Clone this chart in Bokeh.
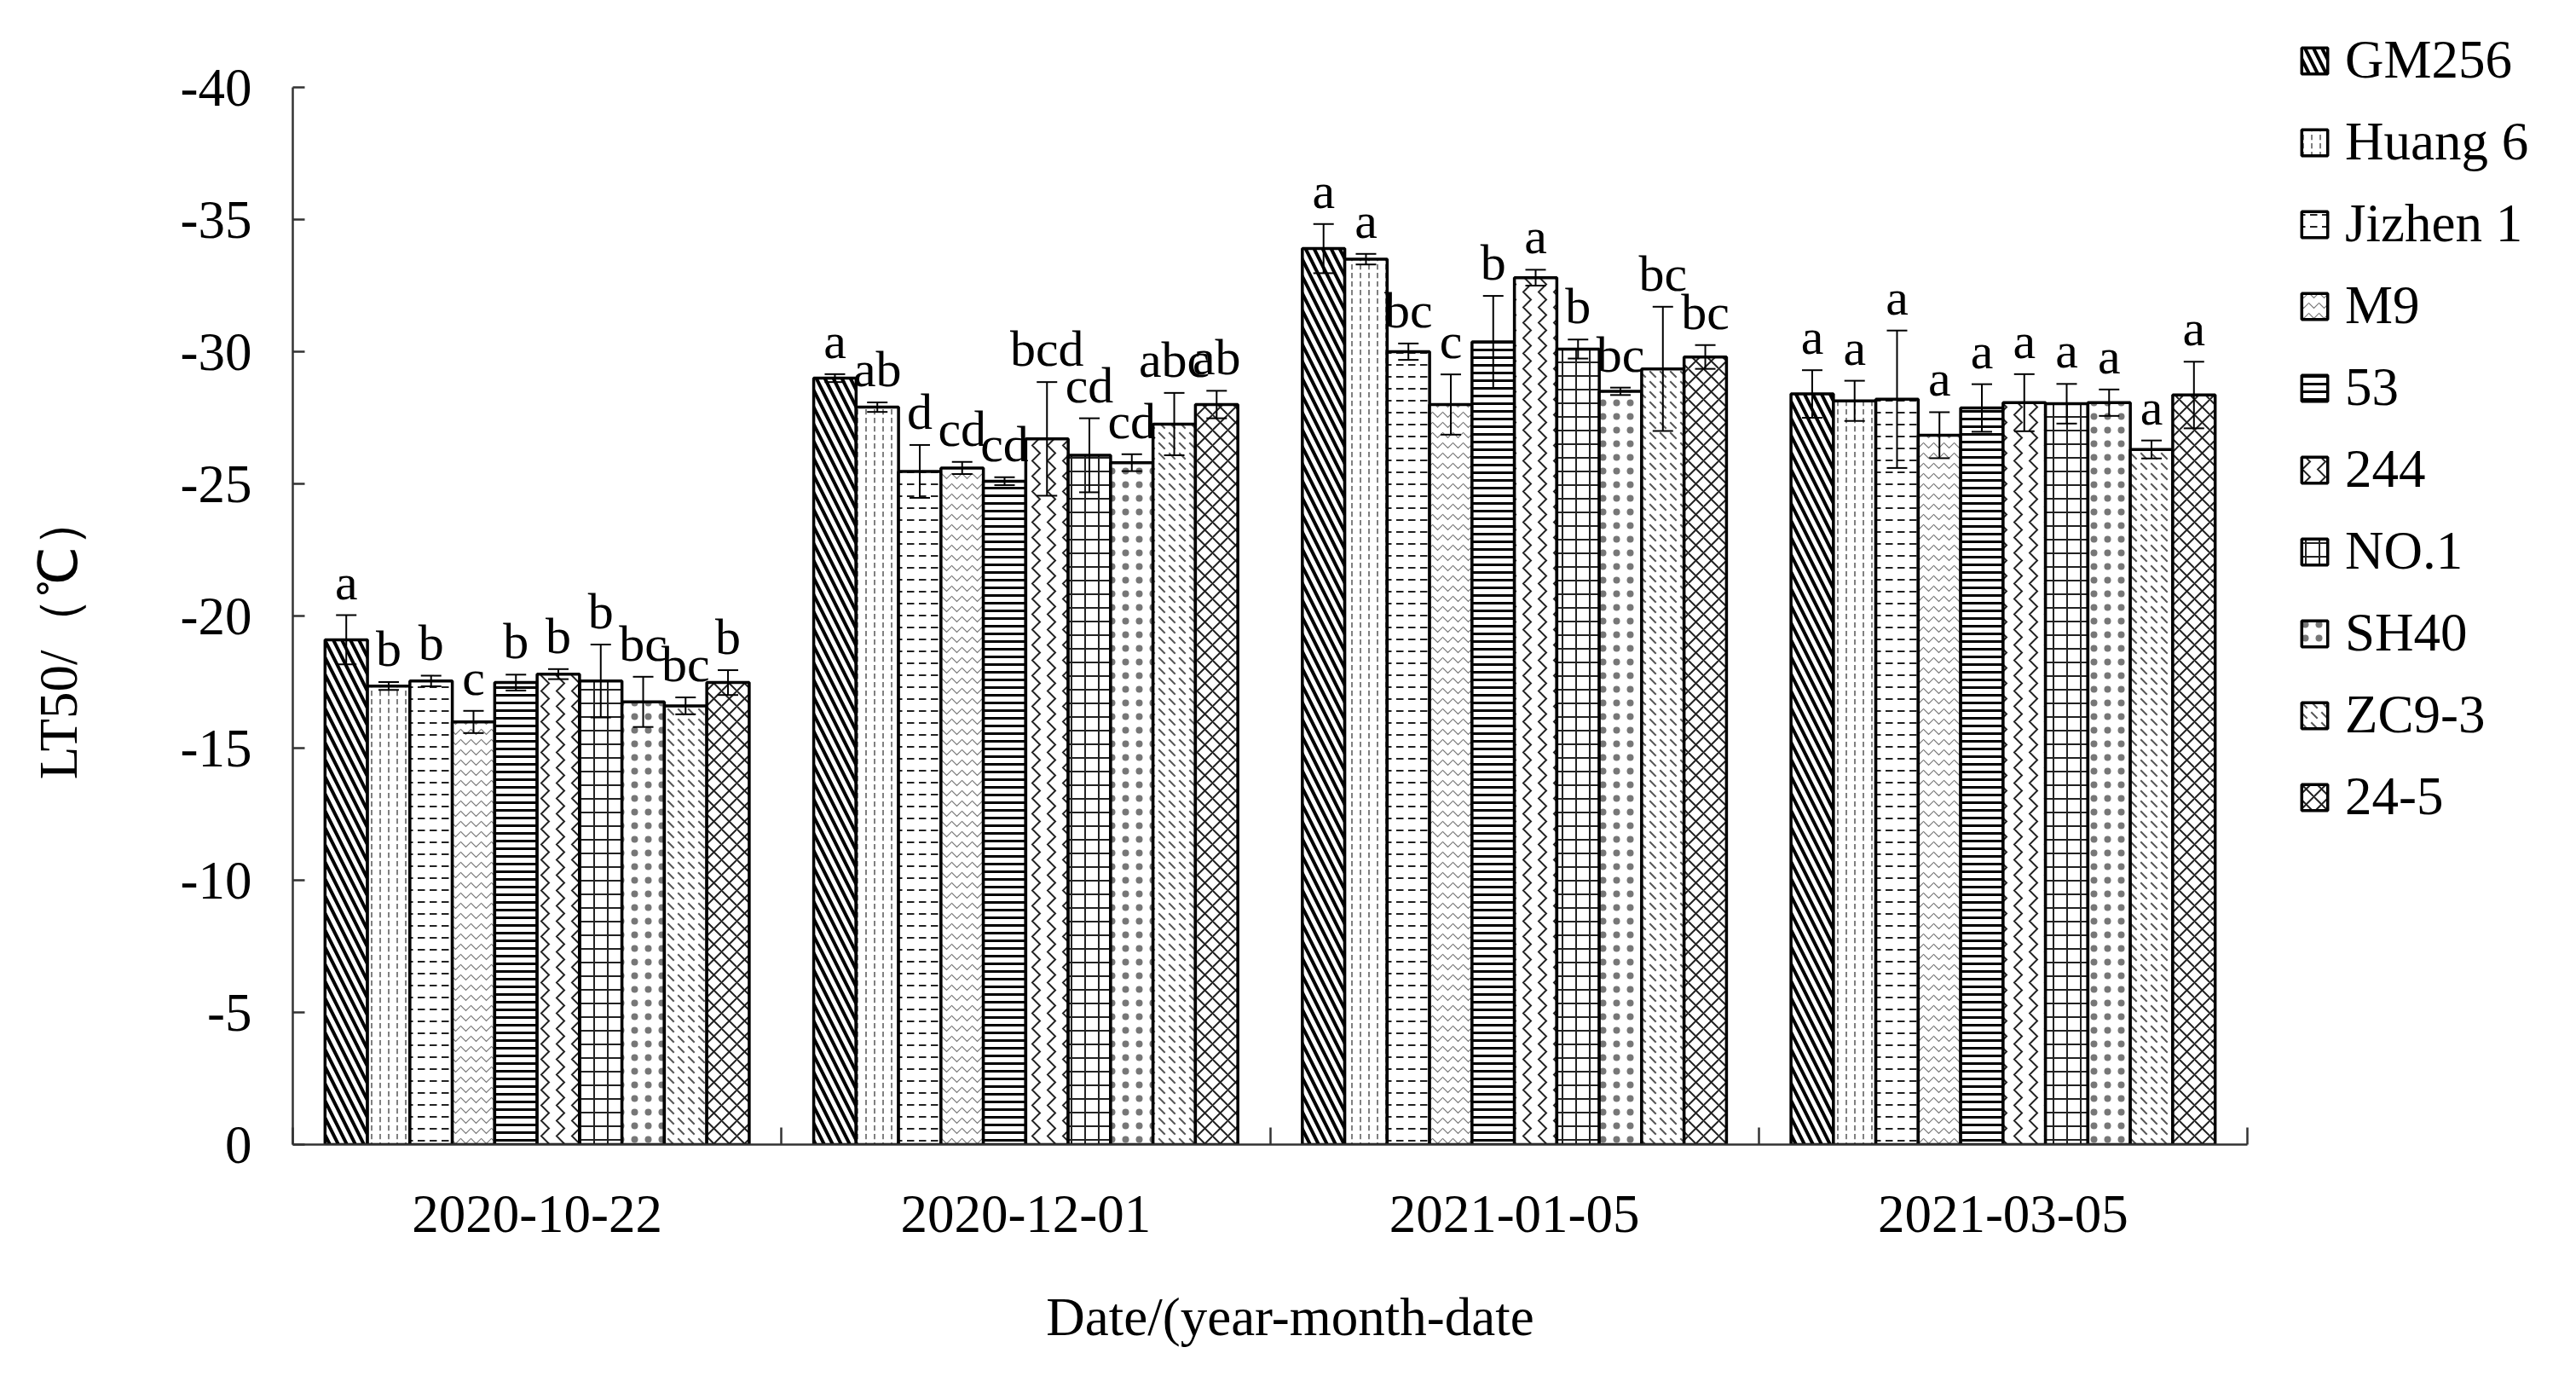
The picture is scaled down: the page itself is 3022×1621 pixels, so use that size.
from bokeh.plotting import figure
from bokeh.models import ColumnDataSource, Range1d, FixedTicker, Whisker, TeeHead, Legend, LegendItem
from bokeh.core.properties import value
from bokeh.embed import file_html
from bokeh.resources import INLINE

dates = ["2020-10-22", "2020-12-01", "2021-01-05", "2021-03-05"]
cultivars = ["GM256", "Huang 6", "Jizhen 1", "M9", "53", "244", "NO.1", "SH40", "ZC9-3", "24-5"]

# LT50 means (degC) per sampling date, in cultivar order
lt50_20201022 = [-19.10, -17.35, -17.54, -15.99, -17.48, -17.80, -17.54, -16.75, -16.60, -17.48]
lt50_20201201 = [-29.00, -27.90, -25.47, -25.60, -25.10, -26.70, -26.08, -25.80, -27.26, -28.00]
lt50_20210105 = [-33.90, -33.50, -30.00, -28.00, -30.37, -32.80, -30.10, -28.50, -29.35, -29.80]
lt50_20210305 = [-28.40, -28.14, -28.20, -26.84, -27.87, -28.07, -28.03, -28.07, -26.30, -28.36]

# standard errors
err_20201022 = [0.93, 0.15, 0.20, 0.42, 0.30, 0.19, 1.38, 0.95, 0.32, 0.47]
err_20201201 = [0.15, 0.18, 1.00, 0.23, 0.15, 2.15, 1.40, 0.32, 1.18, 0.52]
err_20210105 = [0.93, 0.20, 0.31, 1.14, 1.74, 0.30, 0.36, 0.14, 2.35, 0.45]
err_20210305 = [0.90, 0.76, 2.60, 0.87, 0.90, 1.08, 0.75, 0.50, 0.34, 1.26]

# significance letters
sig_20201022 = ["a", "b", "b", "c", "b", "b", "b", "bc", "bc", "b"]
sig_20201201 = ["a", "ab", "d", "cd", "cd", "bcd", "cd", "cd", "abc", "ab"]
sig_20210105 = ["a", "a", "bc", "c", "b", "a", "b", "bc", "bc", "bc"]
sig_20210305 = ["a", "a", "a", "a", "a", "a", "a", "a", "a", "a"]

y_ticks = [0, -5, -10, -15, -20, -25, -30, -35, -40]
y_tick_labels = ["0", "-5", "-10", "-15", "-20", "-25", "-30", "-35", "-40"]
NB = "\u00a0"
# non-breaking spaces pad the titles so that they sit centred on the drawn axes
x_title = "Date/(year-month-date" + NB * 20
y_title = "LT50/（℃）" + NB * 9

means = [lt50_20201022, lt50_20201201, lt50_20210105, lt50_20210305]
errs = [err_20201022, err_20201201, err_20210105, err_20210305]
sigs = [sig_20201022, sig_20201201, sig_20210105, sig_20210305]

styles = [
    dict(hatch_pattern="left_diagonal_line", hatch_scale=20, hatch_weight=4, hatch_color="black"),
    dict(hatch_pattern="vertical_dash", hatch_scale=10, hatch_weight=1.5, hatch_color="#555555"),
    dict(hatch_pattern="horizontal_dash", hatch_scale=14, hatch_weight=2, hatch_color="#222222"),
    dict(hatch_pattern="horizontal_wave", hatch_scale=12, hatch_weight=1.2, hatch_color="#777777"),
    dict(hatch_pattern="horizontal_line", hatch_scale=9, hatch_weight=3, hatch_color="black"),
    dict(hatch_pattern="vertical_wave", hatch_scale=18, hatch_weight=2, hatch_color="#222222"),
    dict(hatch_pattern="cross", hatch_scale=16, hatch_weight=2, hatch_color="#222222"),
    dict(hatch_pattern="dot", hatch_scale=16, hatch_weight=1.2, hatch_color="#777777"),
    dict(hatch_pattern="left_diagonal_dash", hatch_scale=12, hatch_weight=2, hatch_color="#555555"),
    dict(hatch_pattern="diagonal_cross", hatch_scale=18, hatch_weight=2, hatch_color="#222222"),
]

FONT_NAME = "Liberation Serif"
FONT = value(FONT_NAME)
FS = "63px"
FS_SIG = "60px"

W, H = 3006, 1605
LEFT, BOTTOM, TOP, RIGHT = 343, 263, 8, 8
AX_W, AX_H = 2293, 1240          # pixel extent of the drawn axes (4 groups, 0..-40 degC)
px_x = AX_W / len(dates)
px_y = AX_H / 40.0
x_end = (W - LEFT - RIGHT) / px_x
y_end = -(H - BOTTOM - TOP) / px_y

p = figure(width=W, height=H, output_backend="svg", toolbar_location=None,
           x_range=Range1d(0, x_end), y_range=Range1d(0, y_end),
           min_border_left=LEFT, min_border_right=RIGHT, min_border_top=TOP, min_border_bottom=BOTTOM)
p.outline_line_color = None
p.xgrid.visible = False
p.ygrid.visible = False
p.background_fill_color = "white"

bw = 0.0868
n = len(cultivars)
items = []
lab_x, lab_y, lab_t = [], [], []
for j, name in enumerate(cultivars):
    xs = [g + 0.5 + (j - (n - 1) / 2) * bw for g in range(len(dates))]
    tops = [means[g][j] for g in range(len(dates))]
    up = [means[g][j] - errs[g][j] for g in range(len(dates))]
    lo = [means[g][j] + errs[g][j] for g in range(len(dates))]
    src = ColumnDataSource(dict(x=xs, top=tops, upper=up, lower=lo))
    r = p.vbar(x="x", top="top", bottom=0, width=bw, source=src,
               fill_color="white", line_color="black", line_width=3.5, **styles[j])
    items.append(LegendItem(label=name, renderers=[r]))
    wk = Whisker(source=src, base="x", upper="upper", lower="lower", dimension="height",
                 line_color="black", line_width=2,
                 upper_head=TeeHead(size=24, line_color="black", line_width=2),
                 lower_head=TeeHead(size=24, line_color="black", line_width=2))
    wk.level = "annotation"
    p.add_layout(wk)
    for g in range(len(dates)):
        lab_x.append(xs[g])
        lab_y.append(up[g])
        lab_t.append(sigs[g][j])

p.text(x=lab_x, y=lab_y, text=lab_t, text_align="center", text_baseline="bottom",
       y_offset=-6, text_font=FONT, text_font_size=value(FS_SIG), text_color="black")

# axes
for ax in (p.xaxis[0], p.yaxis[0]):
    ax.axis_line_color = "#333333"
    ax.axis_line_width = 2.5
    ax.major_label_text_font = FONT_NAME
    ax.major_label_text_font_size = FS
    ax.major_label_text_color = "black"
    ax.axis_label_text_font = FONT_NAME
    ax.axis_label_text_font_size = FS
    ax.axis_label_text_font_style = "normal"
    ax.axis_label_text_color = "black"

p.yaxis.bounds = (-40, 0)
p.yaxis.ticker = FixedTicker(ticks=y_ticks, minor_ticks=[])
p.yaxis.major_label_overrides = {t: s for t, s in zip(y_ticks, y_tick_labels)}
p.yaxis.major_tick_in = 14
p.yaxis.major_tick_out = 0
p.yaxis.major_tick_line_color = "#333333"
p.yaxis.major_tick_line_width = 2.5
p.yaxis.minor_tick_line_color = None
p.yaxis.major_label_standoff = 48
p.yaxis.axis_label = y_title
p.yaxis.axis_label_standoff = 105

xt = [g + 0.5 for g in range(len(dates))]
p.xaxis.bounds = (0, len(dates))
p.xaxis.ticker = FixedTicker(ticks=xt, minor_ticks=[float(g) for g in range(len(dates) + 1)])
p.xaxis.major_label_overrides = {t: d for t, d in zip(xt, dates)}
p.xaxis.major_tick_in = 0
p.xaxis.major_tick_out = 0
p.xaxis.minor_tick_in = 20
p.xaxis.minor_tick_out = 0
p.xaxis.minor_tick_line_color = "#333333"
p.xaxis.minor_tick_line_width = 2.5
p.xaxis.major_label_standoff = 60
p.xaxis.axis_label = x_title
p.xaxis.axis_label_standoff = 62

legend = Legend(items=items, location=(2353, 371), orientation="vertical",
                glyph_width=38, glyph_height=38, label_height=70, spacing=23,
                padding=10, margin=0, label_standoff=17,
                label_text_font=FONT_NAME, label_text_font_size=FS, label_text_color="black",
                border_line_color=None, background_fill_alpha=0)
p.add_layout(legend, "center")

open("out.html", "w").write(file_html(p, INLINE))
